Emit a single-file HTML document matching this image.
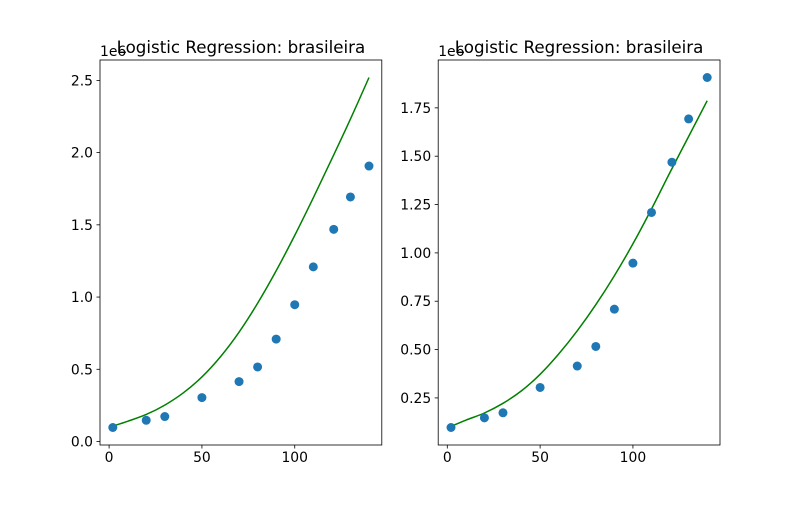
<!DOCTYPE html>
<html><head><meta charset="utf-8"><style>
body{margin:0;background:#fff;width:800px;height:500px;overflow:hidden}
text{font-family:"DejaVu Sans","Liberation Sans",sans-serif;fill:#000}
</style></head><body>
<svg id="fig" width="800" height="500" xmlns="http://www.w3.org/2000/svg"></svg>
<script>
const xs=[2,20,30,50,70,80,90,100,110,121,130,140];
const ys=[0.097,0.147,0.173,0.304,0.415,0.516,0.709,0.947,1.209,1.469,1.693,1.907];
const fitX=[2,10,20,30,40,50,60,70,80,90,100,110,120,130,140];
const fitLeft=[0.107,0.14,0.187,0.252,0.337,0.447,0.587,0.757,0.957,1.182,1.427,1.687,1.957,2.232,2.52];
const fitRight=[0.103,0.135,0.172,0.222,0.287,0.372,0.477,0.597,0.732,0.882,1.047,1.227,1.417,1.602,1.787];
const xTicks=[0,50,100];
const leftYTicks=[0,0.5,1.0,1.5,2.0,2.5];
const leftYLabels=["0.0","0.5","1.0","1.5","2.0","2.5"];
const rightYTicks=[0.25,0.5,0.75,1.0,1.25,1.5,1.75];
const rightYLabels=["0.25","0.50","0.75","1.00","1.25","1.50","1.75"];
const NS="http://www.w3.org/2000/svg";
const svg=document.getElementById('fig');
function mk(t,a,p){const e=document.createElementNS(NS,t);for(const k in a)e.setAttribute(k,a[k]);(p||svg).appendChild(e);return e;}
function smoothPath(pts){
  let d='M'+pts[0][0]+','+pts[0][1];
  for(let i=0;i<pts.length-1;i++){
    const p0=pts[Math.max(0,i-1)],p1=pts[i],p2=pts[i+1],p3=pts[Math.min(pts.length-1,i+2)];
    const c1=[p1[0]+(p2[0]-p0[0])/6,p1[1]+(p2[1]-p0[1])/6];
    const c2=[p2[0]-(p3[0]-p1[0])/6,p2[1]-(p3[1]-p1[1])/6];
    d+=' C'+c1[0]+','+c1[1]+' '+c2[0]+','+c2[1]+' '+p2[0]+','+p2[1];
  }
  return d;
}
function panel(idx,L,R,fit,yt,yl){
  const T=60,B=445;
  const xmin=-4.9,xmax=146.9;
  const all=ys.concat(fit);const lo=Math.min(...all),hi=Math.max(...all),m=(hi-lo)*0.05;
  const ymin=lo-m,ymax=hi+m;
  const X=v=>L+(v-xmin)/(xmax-xmin)*(R-L);
  const Y=v=>B-(v-ymin)/(ymax-ymin)*(B-T);
  const g=mk('g',{});
  
  
  const line=mk('path',{d:smoothPath(fitX.map((x,i)=>[X(x),Y(fit[i])])),fill:'none',stroke:'#008000','stroke-width':1.5},g);
  
  
  xs.forEach((x,i)=>{const c=mk('circle',{cx:X(x),cy:Y(ys[i]),r:4.5,fill:'#1f77b4'},g);
    
    });
  const fr=mk('rect',{x:L,y:T,width:R-L,height:B-T,fill:'none',stroke:'#000','stroke-width':0.8},g);
  
  
  xTicks.forEach(v=>{const x=X(v);mk('line',{x1:x,x2:x,y1:B,y2:B+3.5,stroke:'#000','stroke-width':0.8},g);
    const t=mk('text',{x:x,y:B+17,'text-anchor':'middle','font-size':13.9},g);t.textContent=v;
    
    });
  yt.forEach((v,i)=>{const y=Y(v);mk('line',{x1:L-3.5,x2:L,y1:y,y2:y,stroke:'#000','stroke-width':0.8},g);
    const t=mk('text',{x:L-7,y:y+5,'text-anchor':'end','font-size':13.9},g);t.textContent=yl[i];
    
    });
  const off=mk('text',{x:L,y:T-4,'font-size':13.9},g);off.textContent='1e6';
  
  
  const ti=mk('text',{x:(L+R)/2,y:T-7,'text-anchor':'middle','font-size':16.7},g);ti.textContent='Logistic Regression: brasileira';
  
  
}
panel(1,100,381.8,fitLeft,leftYTicks,leftYLabels);
panel(2,438.2,720,fitRight,rightYTicks,rightYLabels);
</script>
</body></html>
